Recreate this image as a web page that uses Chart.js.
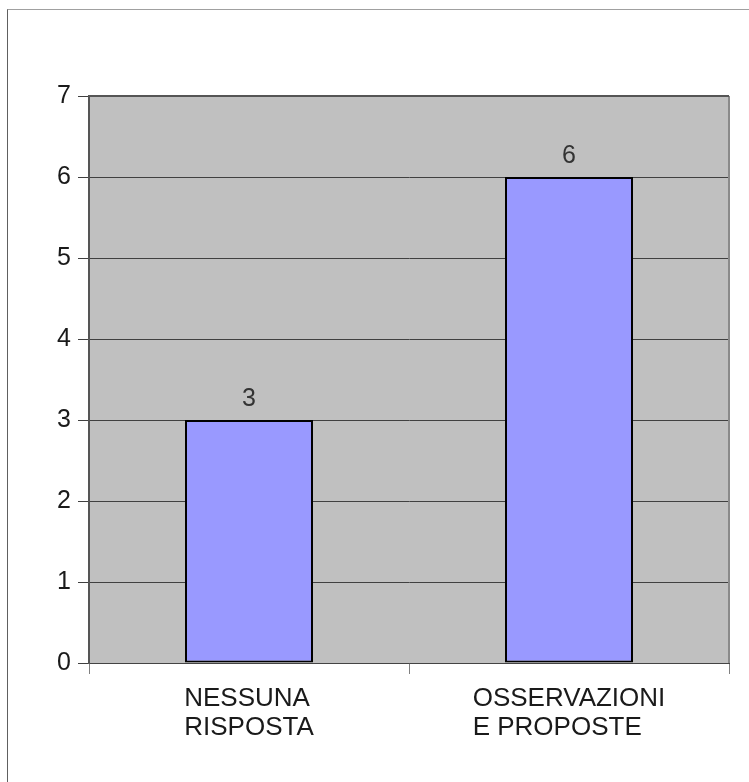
<!DOCTYPE html>
<html lang="en">
<head>
  <meta charset="UTF-8" />
  <title>Risposte</title>
  <style>
    html, body { margin: 0; padding: 0; background: #ffffff; }
    .frame {
      position: absolute; left: 7px; top: 9px; width: 760px; height: 800px;
      border-top: 1px solid #a0a0a0; border-left: 1px solid #606060;
    }
    .chart-wrapper { position: absolute; left: 0; top: 0; width: 749px; height: 782px; }
  </style>
</head>
<body>
<div class="frame"></div>
<div class="chart-wrapper"><canvas id="rispChart"></canvas></div>

<script src="https://cdn.jsdelivr.net/npm/chart.js"></script>
<script>
  // data
  const categories = [['NESSUNA', 'RISPOSTA'], ['OSSERVAZIONI', 'E PROPOSTE']];
  const values = [3, 6];
  const yTicks = [0, 1, 2, 3, 4, 5, 6, 7];

  const FONT = '"Liberation Sans", Arial, sans-serif';

  // gray plot area with border
  const plotBg = {
    id: 'plotBg',
    beforeDraw(chart) {
      const { ctx, chartArea: a } = chart;
      ctx.save();
      ctx.fillStyle = '#c0c0c0';
      ctx.fillRect(a.left, a.top, a.right - a.left, a.bottom - a.top);
      ctx.restore();
    },
    afterDraw(chart) {
      const { ctx, chartArea: a } = chart;
      ctx.save();
      ctx.strokeStyle = '#8a8a8a';
      ctx.lineWidth = 2;
      ctx.beginPath();
      ctx.moveTo(a.right, a.top);
      ctx.lineTo(a.right, a.bottom);
      ctx.stroke();
      ctx.strokeStyle = '#555555';
      ctx.beginPath();
      ctx.moveTo(a.left, a.top);
      ctx.lineTo(a.right, a.top);
      ctx.stroke();
      ctx.restore();
    }
  };

  // value on top of each bar
  const valueLabels = {
    id: 'valueLabels',
    afterDatasetsDraw(chart) {
      const { ctx } = chart;
      const meta = chart.getDatasetMeta(0);
      ctx.save();
      ctx.font = '25px ' + FONT;
      ctx.fillStyle = '#333333';
      ctx.textAlign = 'center';
      ctx.textBaseline = 'alphabetic';
      meta.data.forEach((bar, i) => {
        ctx.fillText(String(values[i]), bar.x, bar.y - 14);
      });
      ctx.restore();
    }
  };

  // category labels: block centred on the category, lines left aligned
  const catLabels = {
    id: 'catLabels',
    afterDraw(chart) {
      const { ctx } = chart;
      const x = chart.scales.x;
      ctx.save();
      ctx.font = '26px ' + FONT;
      ctx.fillStyle = '#1a1a1a';
      ctx.textAlign = 'left';
      ctx.textBaseline = 'alphabetic';
      categories.forEach((lines, i) => {
        const cx = x.getPixelForValue(i);
        const w = Math.max(...lines.map(l => ctx.measureText(l).width));
        lines.forEach((l, j) => {
          ctx.fillText(l, cx - w / 2, x.top + 43 + j * 29);
        });
      });
      ctx.restore();
    }
  };

  new Chart(document.getElementById('rispChart').getContext('2d'), {
    type: 'bar',
    data: {
      labels: categories.map(c => c.join(' ')),
      datasets: [{
        data: values,
        backgroundColor: '#9999ff',
        borderColor: '#000000',
        borderWidth: 2,
        borderSkipped: false,
        barPercentage: 0.4,
        categoryPercentage: 1
      }]
    },
    options: {
      responsive: true,
      maintainAspectRatio: false,
      animation: false,
      layout: { padding: { left: 0, top: 96, right: 20, bottom: 0 } },
      plugins: { legend: { display: false }, tooltip: { enabled: false } },
      scales: {
        x: {
          offset: true,
          grid: {
            offset: true,
            drawOnChartArea: false,
            tickLength: 11,
            color: '#808080',
            lineWidth: 1
          },
          border: { color: '#444444', width: 1 },
          ticks: { display: false },
          afterFit(scale) { scale.height = 119; }
        },
        y: {
          min: 0,
          max: 7,
          afterBuildTicks(scale) { scale.ticks = yTicks.map(v => ({ value: v })); },
          grid: { color: '#404040', lineWidth: 1, tickLength: 11 },
          border: { color: '#555555', width: 2 },
          ticks: {
            padding: 7,
            color: '#1a1a1a',
            font: { family: FONT, size: 25 }
          },
          afterFit(scale) { scale.width = 89; }
        }
      }
    },
    plugins: [plotBg, valueLabels, catLabels]
  });
</script>
</body>
</html>
